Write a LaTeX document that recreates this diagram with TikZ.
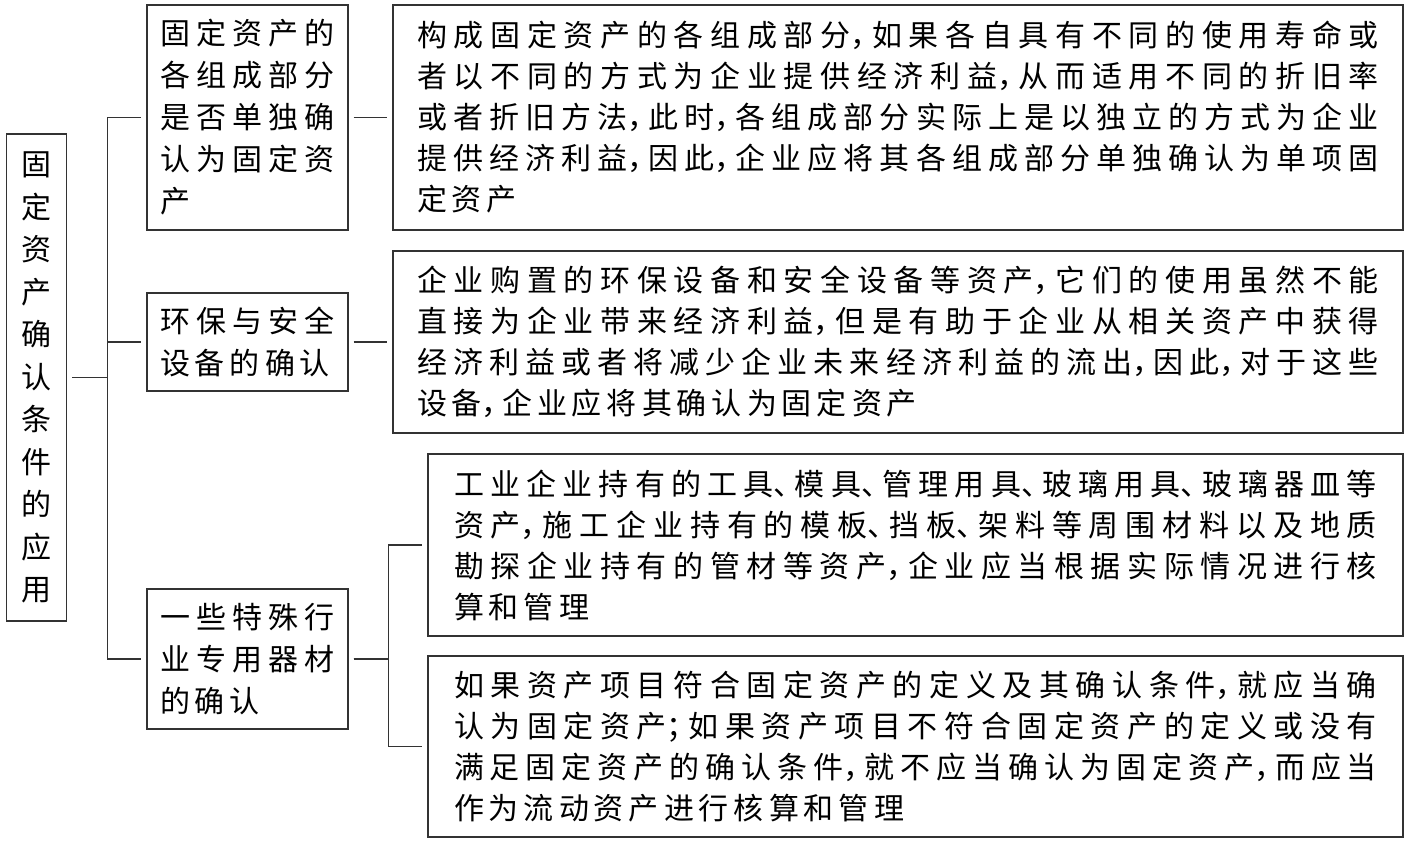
\documentclass[tikz,border=0pt]{standalone}
\usepackage{fontspec}
\setmainfont{Noto Sans CJK SC}[RawFeature=+halt]
\XeTeXlinebreaklocale "zh"
\XeTeXlinebreakskip=2.5pt plus 3pt
\begin{document}
\begin{tikzpicture}[x=0.5pt,y=-0.5pt,
  boxline/.style={draw=black!80, line width=0.7pt, rectangle, inner ysep=0pt},
  vbox/.style={boxline, align=center, inner xsep=0pt, text width=30pt,
    minimum width=30pt, font=\fontsize{15pt}{21.25pt}\selectfont},
  sbox/.style={boxline, align=justify, text width=87.5pt, inner xsep=6.5pt,
    font=\fontsize{15pt}{21pt}\selectfont},
  wbox/.style={boxline, align=justify, text width=481pt, inner xsep=12pt,
    font=\fontsize{15pt}{20.5pt}\selectfont},
  nbox/.style={boxline, align=justify, text width=461.5pt, inner xsep=13pt,
    font=\fontsize{15pt}{20.5pt}\selectfont},
  conn/.style={draw=black!80, line width=0.6pt, shorten <=2.5pt, shorten >=2.5pt}
]
\useasboundingbox (0,0) rectangle (1410,844);

\node[vbox, minimum height=243.5pt] (L) at (36.7,377.5)
  {固\\定\\资\\产\\确\\认\\条\\件\\的\\应\\用};

\node[sbox, minimum height=112.5pt] (A1) at (247.5,117.5)
  {固定资产的\linebreak 各组成部分\linebreak 是否单独确\linebreak 认为固定资\linebreak 产};
\node[sbox, minimum height=49pt] (A2) at (247.5,342)
  {环保与安全\linebreak 设备的确认};
\node[sbox, minimum height=70pt] (A3) at (247.5,659)
  {一些特殊行\linebreak 业专用器材\linebreak 的确认};

\node[wbox, minimum height=112.5pt] (T1) at (898,117.5)
  {构成固定资产的各组成部分，如果各自具有不同的使用寿命或\linebreak 者以不同的方式为企业提供经济利益，从而适用不同的折旧率\linebreak 或者折旧方法，此时，各组成部分实际上是以独立的方式为企业\linebreak 提供经济利益，因此，企业应将其各组成部分单独确认为单项固\linebreak 定资产};
\node[wbox, minimum height=91pt] (T2) at (898,342)
  {企业购置的环保设备和安全设备等资产，它们的使用虽然不能\linebreak 直接为企业带来经济利益，但是有助于企业从相关资产中获得\linebreak 经济利益或者将减少企业未来经济利益的流出，因此，对于这些\linebreak 设备，企业应将其确认为固定资产};
\node[nbox, minimum height=91pt] (T3a) at (915.5,545)
  {工业企业持有的工具、模具、管理用具、玻璃用具、玻璃器皿等\linebreak 资产，施工企业持有的模板、挡板、架料等周围材料以及地质\linebreak 勘探企业持有的管材等资产，企业应当根据实际情况进行核\linebreak 算和管理};
\node[nbox, minimum height=90.5pt] (T3b) at (915.5,746.5)
  {如果资产项目符合固定资产的定义及其确认条件，就应当确\linebreak 认为固定资产；如果资产项目不符合固定资产的定义或没有\linebreak 满足固定资产的确认条件，就不应当确认为固定资产，而应当\linebreak 作为流动资产进行核算和管理};

\draw[conn] (L.east) -- ++(40,0) |- (A1.west);
\draw[conn] (L.east) -- ++(40,0) |- (A2.west);
\draw[conn] (L.east) -- ++(40,0) |- (A3.west);
\draw[conn] (A1.east) -- (T1.west);
\draw[conn] (A2.east) -- (T2.west);
\draw[conn] (A3.east) -- ++(40,0) |- (T3a.west);
\draw[conn] (A3.east) -- ++(40,0) |- (T3b.west);
\end{tikzpicture}
\end{document}
